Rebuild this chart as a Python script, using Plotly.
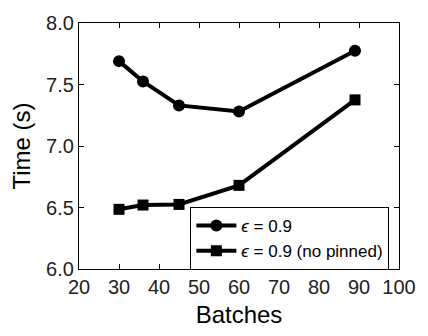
import plotly.graph_objects as go

batches = [30, 36, 45, 60, 89]
time_pinned = [7.69, 7.525, 7.33, 7.28, 7.775]
time_no_pinned = [6.485, 6.52, 6.525, 6.68, 7.375]

label_font = "Liberation Sans"

fig = go.Figure()
fig.add_trace(go.Scatter(
    x=batches, y=time_pinned, mode="lines+markers",
    name="<i>ϵ</i> = 0.9",
    line=dict(color="black", width=4),
    marker=dict(symbol="circle", size=12, color="black"),
))
fig.add_trace(go.Scatter(
    x=batches, y=time_no_pinned, mode="lines+markers",
    name="<i>ϵ</i> = 0.9 (no pinned)",
    line=dict(color="black", width=4),
    marker=dict(symbol="square", size=11, color="black"),
))

axis_common = dict(
    showline=True, linecolor="black", linewidth=1.2, mirror="ticks",
    ticks="inside", ticklen=5, tickcolor="black", tickwidth=1,
    showgrid=False, zeroline=False,
    tickfont=dict(family=label_font, size=20, color="#222"),
)

fig.update_xaxes(
    range=[20, 100], tickvals=[20, 30, 40, 50, 60, 70, 80, 90, 100],
    title=dict(text="Batches", font=dict(family=label_font, size=24, color="black"), standoff=9),
    **axis_common,
)
fig.update_yaxes(
    range=[6.0, 8.0], tickvals=[6.0, 6.5, 7.0, 7.5, 8.0], tickformat=".1f",
    title=dict(text="Time (s)", font=dict(family=label_font, size=24, color="black"), standoff=8),
    **axis_common,
)

fig.update_layout(
    width=428, height=336,
    margin=dict(l=79, r=17, t=15, b=67),
    paper_bgcolor="white", plot_bgcolor="white",
    showlegend=True,
    legend=dict(
        x=0.348, y=0.252, xanchor="left", yanchor="top",
        bgcolor="white", bordercolor="black", borderwidth=1,
        font=dict(family=label_font, size=17, color="black"),
        itemwidth=40, tracegroupgap=0,
    ),
)

fig.write_html("out.html")
